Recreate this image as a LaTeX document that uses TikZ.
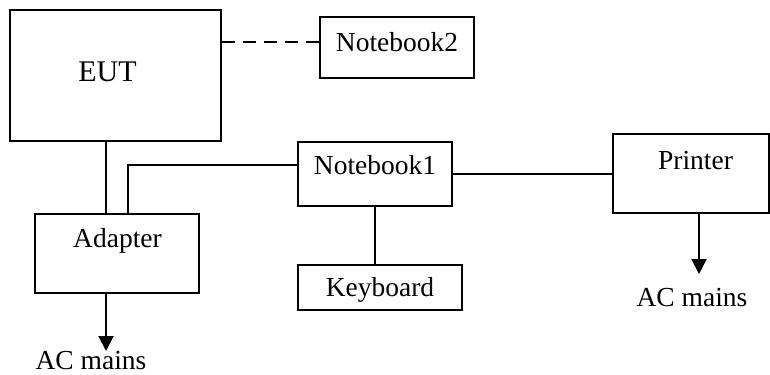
\documentclass[tikz,border=0pt]{standalone}
\usepackage{fontspec}
\setmainfont{Liberation Serif}
\usetikzlibrary{positioning}
\usetikzlibrary{arrows.meta}

\tikzset{
  box/.style={draw, line width=0.8pt, inner sep=0, minimum width=#1},
  lbl/.style={inner sep=0, font=\fontsize{11}{13}\selectfont},
  wire/.style={line width=0.8pt},
  arr/.style={line width=0.8pt, -{Triangle[length=6pt, width=6pt]}}
}

\begin{document}
\begin{tikzpicture}[x=0.4pt, y=-0.4pt]
    \useasboundingbox (0,0) rectangle (770,374);
    % boxes
    \node[box=84.4pt, minimum height=52.4pt] (eut) at (115.5,75.5) {};
    \node[box=61.6pt, minimum height=24.4pt] (nbtwo) at (397,47.5) {};
    \node[box=61.6pt, minimum height=25.6pt] (nbone) at (375,174) {};
    \node[box=65.6pt, minimum height=31.6pt] (adapter) at (117,253.5) {};
    \node[box=65.6pt, minimum height=18pt] (kbd) at (380,287.5) {};
    \node[box=62.4pt, minimum height=31.6pt] (printer) at (691,173.5) {};
    % texts
    \node[lbl, font=\fontsize{12}{14}\selectfont] (euttext) at (107.5,72) {EUT};
    \node[lbl] (nbtwotext) at (397,42) {Notebook2};
    \node[lbl] (nbonetext) at (375,165) {Notebook1};
    \node[lbl] (adaptertext) at (117.5,241) {Adapter};
    \node[lbl] (kbdtext) at (380,290) {Keyboard};
    \node[lbl] (printertext) at (695.5,160.5) {Printer};
    \node[lbl] (acleft) at (91,361) {AC mains};
    \node[lbl] (acright) at (692,298) {AC mains};
    % arrow ends
    \coordinate (accl) at (106,351);
    \coordinate (accr) at (699,274);
    % connections
    \draw[wire, dashed, dash pattern=on 5.2pt off 3.2pt] (eut.east |- nbtwotext) -- (nbtwo.west |- nbtwotext);
    \draw[wire] (eut.south -| accl) -- (adapter.north -| accl);
    \draw[line width=0.5pt] (adapter.north -| 128,0) |- (nbone.west |- nbonetext);
    \draw[wire] (nbone.south) -- (kbd.north -| nbone.south);
    \draw[wire] (nbone.east) -- (printer.west |- nbone.east);
    \draw[arr] (adapter.south -| accl) -- (accl);
    \draw[arr] (printer.south -| accr) -- (accr);
\end{tikzpicture}
\end{document}
